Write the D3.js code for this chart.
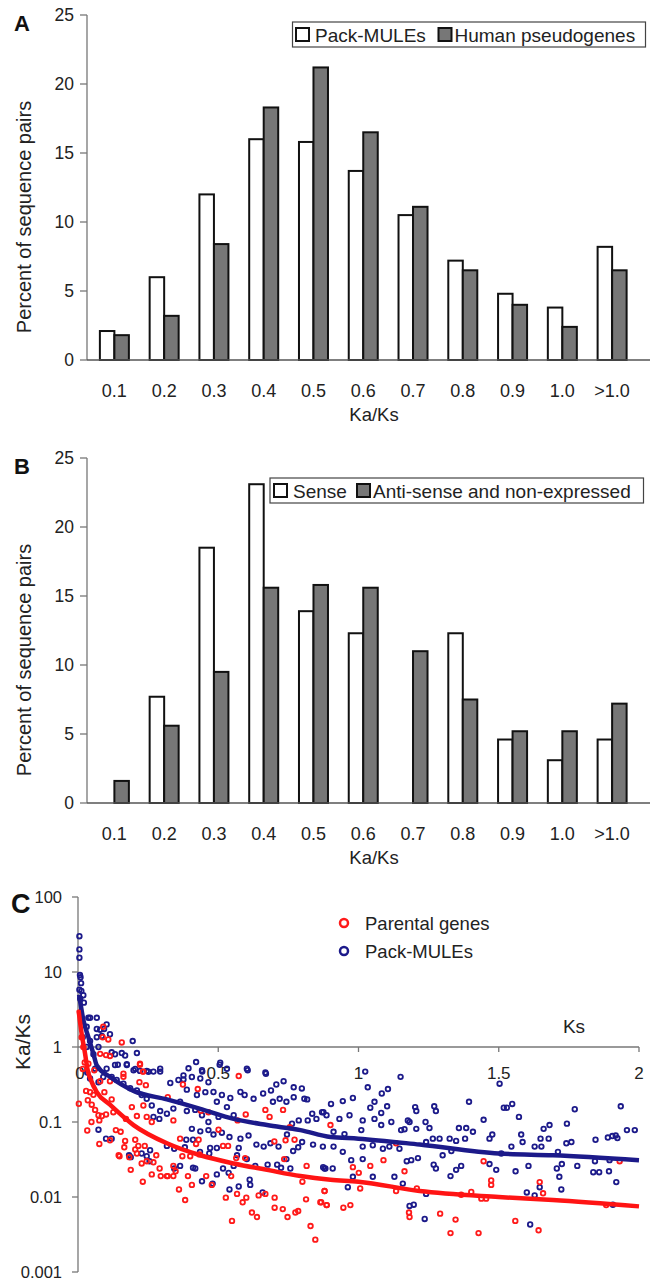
<!DOCTYPE html>
<html>
<head>
<meta charset="utf-8">
<script src="https://cdn.jsdelivr.net/npm/d3@7"></script>
<style>
  body { margin: 0; background: #fff; }
  svg { display: block; font-family: "Liberation Sans", Arial, sans-serif; }
</style>
</head>
<body>
<div id="chart"></div>
<script>
// categories for panels A and B
var cats = ["0.1", "0.2", "0.3", "0.4", "0.5", "0.6", "0.7", "0.8", "0.9", "1.0", ">1.0"];
var yTicksAB = [0, 5, 10, 15, 20, 25];

// panel A
var packMules = [2.1, 6.0, 12.0, 16.0, 15.8, 13.7, 10.5, 7.2, 4.8, 3.8, 8.2];
var humanPseudo = [1.8, 3.2, 8.4, 18.3, 21.2, 16.5, 11.1, 6.5, 4.0, 2.4, 6.5];

// panel B
var sense = [0, 7.7, 18.5, 23.1, 13.9, 12.3, 0, 12.3, 4.6, 3.1, 4.6];
var antiSense = [1.6, 5.6, 9.5, 15.6, 15.8, 15.6, 11.0, 7.5, 5.2, 5.2, 7.2];

// panel C : [Ks, Ka/Ks]
var parental = [
  [0.007, 2.9], [0.012, 2.3], [0.013, 1.35], [0.019, 1.0], [0.037, 0.6], [0.088, 1.35], [0.09, 1.86], [0.108, 1.26],
  [0.1, 0.78], [0.156, 1.15], [0.221, 0.58], [0.573, 0.41], [0.079, 0.81], [0.114, 0.76], [0.058, 0.49], [0.162, 0.4],
  [0.233, 0.47], [0.003, 0.175], [0.033, 0.077], [0.076, 0.051], [0.114, 0.057], [0.148, 0.035], [0.165, 0.046],
  [0.188, 0.023], [0.204, 0.043], [0.231, 0.016], [0.269, 0.029], [0.295, 0.019], [0.317, 0.019], [0.34, 0.019],
  [0.36, 0.0126], [0.382, 0.0091], [0.406, 0.0145], [0.392, 0.019], [0.457, 0.019], [0.477, 0.0145], [0.527, 0.0098],
  [0.549, 0.0048], [0.546, 0.019], [0.567, 0.011], [0.587, 0.0085], [0.6, 0.0098], [0.62, 0.0062], [0.638, 0.0054],
  [0.644, 0.0105], [0.668, 0.011], [0.701, 0.0098], [0.701, 0.0072], [0.73, 0.0069], [0.747, 0.0054], [0.775, 0.0062],
  [0.785, 0.0065], [0.813, 0.0093], [0.829, 0.0041], [0.846, 0.0027], [0.864, 0.0085], [0.886, 0.0078], [0.879, 0.012],
  [0.8, 0.016], [0.815, 0.026], [0.735, 0.032], [0.772, 0.058], [0.74, 0.057], [0.70, 0.055], [0.668, 0.145],
  [0.683, 0.117], [0.731, 0.145], [0.755, 0.085], [0.569, 0.105], [0.598, 0.126], [0.501, 0.079], [0.517, 0.048],
  [0.535, 0.048], [0.564, 0.033], [0.596, 0.033], [0.433, 0.037], [0.43, 0.058], [0.438, 0.141], [0.465, 0.135],
  [0.427, 0.275], [0.374, 0.316], [0.32, 0.214], [0.34, 0.105], [0.364, 0.06], [0.372, 0.035], [0.40, 0.035],
  [0.421, 0.051], [0.34, 0.026], [0.348, 0.022], [0.32, 0.019], [0.291, 0.024], [0.279, 0.036], [0.263, 0.02],
  [0.245, 0.03], [0.227, 0.028], [0.21, 0.038], [0.215, 0.048], [0.238, 0.048], [0.204, 0.058], [0.183, 0.034],
  [0.168, 0.056], [0.145, 0.036], [0.135, 0.078], [0.152, 0.074], [0.171, 0.11], [0.192, 0.158], [0.21, 0.12],
  [0.233, 0.166], [0.245, 0.117], [0.263, 0.1], [0.242, 0.31], [0.219, 0.34], [0.231, 0.47], [0.221, 0.6],
  [0.162, 0.44], [0.12, 0.2], [0.094, 0.25], [0.114, 0.35], [0.079, 0.35], [0.043, 0.25], [0.055, 0.23],
  [0.049, 0.17], [0.061, 0.145], [0.073, 0.123], [0.085, 0.12], [0.1, 0.126], [0.126, 0.135], [0.048, 0.1],
  [0.076, 0.105], [0.035, 0.195], [0.029, 0.26], [0.017, 0.51], [0.024, 0.62],
  [0.9, 0.091], [0.879, 0.012], [0.867, 0.0085], [0.887, 0.0078], [0.946, 0.0072], [0.971, 0.0078], [0.98, 0.025],
  [1.001, 0.021], [1.006, 0.013], [1.042, 0.026], [1.089, 0.031], [1.134, 0.012], [1.164, 0.022], [1.18, 0.0062],
  [1.182, 0.0054], [1.208, 0.013], [1.291, 0.006], [1.328, 0.0033], [1.346, 0.005], [1.366, 0.0107], [1.402, 0.0117],
  [1.428, 0.0033], [1.438, 0.0095], [1.455, 0.0095], [1.446, 0.03], [1.473, 0.0166], [1.473, 0.0145], [1.559, 0.0048],
  [1.646, 0.0158], [1.658, 0.0112], [1.642, 0.0036], [1.883, 0.0078], [1.931, 0.03], [1.134, 0.052]
];
var packMulesC = [
  [0.005, 30], [0.005, 20], [0.005, 15.5], [0.007, 9.1], [0.009, 8.5], [0.011, 7.1], [0.005, 5.8], [0.012, 5.6],
  [0.019, 4.9], [0.021, 3.9], [0.008, 4.4], [0.037, 2.45], [0.043, 2.45], [0.067, 2.45], [0.031, 1.86], [0.067, 1.74],
  [0.079, 1.7], [0.093, 1.74], [0.102, 2.0], [0.114, 1.48], [0.067, 1.35], [0.085, 1.4], [0.195, 1.2], [0.073, 1.0],
  [0.12, 0.85], [0.132, 0.8], [0.156, 0.83], [0.168, 0.77], [0.21, 0.83], [0.174, 0.59], [0.142, 0.58], [0.204, 0.51],
  [0.221, 0.48], [0.245, 0.48], [0.269, 0.47], [0.293, 0.47], [0.376, 0.37], [0.394, 0.52], [0.421, 0.63],
  [0.443, 0.47], [0.505, 0.58], [0.605, 0.49], [0.67, 0.44], [0.043, 1.2], [0.055, 0.8], [0.031, 1.0], [0.017, 1.35],
  [0.073, 0.079], [0.1, 0.06], [0.12, 0.06], [0.182, 0.036], [0.227, 0.038], [0.245, 0.035], [0.255, 0.03],
  [0.317, 0.048], [0.343, 0.024], [0.364, 0.026], [0.41, 0.0245], [0.418, 0.024], [0.442, 0.0162], [0.48, 0.0151],
  [0.495, 0.02], [0.517, 0.024], [0.54, 0.0126], [0.573, 0.0138], [0.614, 0.0145], [0.658, 0.0115], [0.612, 0.017],
  [0.632, 0.026], [0.676, 0.027], [0.71, 0.027], [0.724, 0.0245], [0.757, 0.024], [0.743, 0.032], [0.767, 0.041],
  [0.785, 0.046], [0.799, 0.054], [0.838, 0.05], [0.874, 0.025], [0.882, 0.024], [0.555, 0.026], [0.537, 0.021],
  [0.567, 0.036], [0.602, 0.032], [0.573, 0.045], [0.471, 0.045], [0.495, 0.045], [0.468, 0.038], [0.386, 0.058],
  [0.41, 0.058], [0.406, 0.081], [0.436, 0.075], [0.465, 0.078], [0.483, 0.068], [0.513, 0.072], [0.54, 0.063],
  [0.579, 0.06], [0.608, 0.066], [0.636, 0.05], [0.662, 0.047], [0.686, 0.052], [0.715, 0.047], [0.745, 0.068],
  [0.763, 0.095], [0.787, 0.105], [0.819, 0.105], [0.85, 0.11], [0.886, 0.123], [0.87, 0.135], [0.835, 0.129],
  [0.807, 0.204], [0.769, 0.214], [0.743, 0.186], [0.719, 0.204], [0.695, 0.186], [0.688, 0.263], [0.66, 0.24],
  [0.626, 0.204], [0.594, 0.229], [0.579, 0.251], [0.543, 0.209], [0.513, 0.229], [0.495, 0.186], [0.531, 0.158],
  [0.555, 0.123], [0.501, 0.117], [0.465, 0.1], [0.442, 0.123], [0.418, 0.145], [0.388, 0.14], [0.364, 0.186],
  [0.34, 0.151], [0.317, 0.129], [0.29, 0.11], [0.269, 0.117], [0.293, 0.14], [0.263, 0.166], [0.245, 0.204],
  [0.227, 0.229], [0.21, 0.263], [0.186, 0.282], [0.162, 0.324], [0.138, 0.363], [0.12, 0.398], [0.09, 0.398],
  [0.073, 0.339], [0.043, 0.38], [0.033, 0.457], [0.061, 0.513], [0.102, 0.513], [0.132, 0.575], [0.174, 0.575],
  [0.198, 0.49], [0.251, 0.468], [0.293, 0.513], [0.329, 0.331], [0.358, 0.363], [0.376, 0.417], [0.406, 0.398],
  [0.436, 0.38], [0.465, 0.339], [0.388, 0.27], [0.424, 0.229], [0.454, 0.25], [0.442, 0.49], [0.507, 0.617],
  [0.531, 0.513], [0.602, 0.513], [0.668, 0.457], [0.707, 0.316], [0.733, 0.35], [0.769, 0.29], [0.798, 0.28],
  [0.817, 0.2], [0.483, 0.251], [0.188, 0.034], [0.257, 0.042], [0.343, 0.044], [0.381, 0.046], [0.435, 0.04],
  [1.024, 0.47], [1.15, 0.40], [1.033, 0.29], [1.083, 0.24], [1.105, 0.275], [1.057, 0.186], [1.042, 0.155],
  [1.102, 0.162], [1.081, 0.132], [1.081, 0.091], [1.117, 0.1], [1.057, 0.11], [1.015, 0.105], [1.01, 0.078],
  [0.98, 0.209], [0.944, 0.19], [0.902, 0.174], [0.875, 0.135], [0.932, 0.11], [0.968, 0.123], [0.911, 0.074],
  [0.95, 0.069], [0.873, 0.047], [0.911, 0.047], [0.944, 0.04], [0.974, 0.031], [1.015, 0.032], [0.908, 0.024],
  [0.879, 0.024], [0.98, 0.0186], [1.051, 0.0186], [0.962, 0.0135], [1.051, 0.049], [1.015, 0.047], [1.087, 0.044],
  [1.11, 0.047], [1.146, 0.044], [1.128, 0.0186], [1.158, 0.0151], [1.172, 0.03], [1.188, 0.031], [1.212, 0.033],
  [1.152, 0.078], [1.164, 0.08], [1.182, 0.1], [1.206, 0.081], [1.202, 0.158], [1.206, 0.14], [1.176, 0.105],
  [1.239, 0.1], [1.253, 0.083], [1.27, 0.162], [1.276, 0.14], [1.241, 0.054], [1.265, 0.06], [1.289, 0.06],
  [1.268, 0.027], [1.276, 0.024], [1.241, 0.011], [1.182, 0.0076], [1.197, 0.0079], [1.236, 0.0051], [1.3, 0.036],
  [1.328, 0.019], [1.325, 0.06], [1.348, 0.056], [1.331, 0.041], [1.358, 0.083], [1.384, 0.083], [1.408, 0.074],
  [1.38, 0.06], [1.394, 0.186], [1.348, 0.023], [1.366, 0.026], [1.446, 0.107], [1.467, 0.06], [1.477, 0.068],
  [1.503, 0.324], [1.518, 0.155], [1.529, 0.155], [1.548, 0.174], [1.572, 0.117], [1.58, 0.068], [1.585, 0.054],
  [1.545, 0.047], [1.509, 0.038], [1.491, 0.023], [1.467, 0.0275], [1.56, 0.022], [1.606, 0.026], [1.6, 0.0115],
  [1.628, 0.0105], [1.646, 0.0135], [1.612, 0.0043], [1.628, 0.047], [1.652, 0.047], [1.649, 0.06], [1.66, 0.081],
  [1.681, 0.091], [1.678, 0.06], [1.711, 0.04], [1.707, 0.024], [1.716, 0.0186], [1.725, 0.0275], [1.723, 0.0126],
  [1.743, 0.095], [1.741, 0.052], [1.759, 0.054], [1.771, 0.148], [1.78, 0.026], [1.845, 0.058], [1.843, 0.03],
  [1.837, 0.0214], [1.858, 0.0214], [1.889, 0.062], [1.895, 0.031], [1.893, 0.022], [1.905, 0.065], [1.917, 0.066],
  [1.923, 0.061], [1.919, 0.0158], [1.935, 0.162], [1.957, 0.078], [1.985, 0.078], [1.907, 0.0079]
];
// trend lines
var parentalFit = [[0.002, 3.1], [0.013, 1.5], [0.025, 0.82], [0.035, 0.48], [0.045, 0.37], [0.067, 0.25], [0.114, 0.17],
  [0.198, 0.091], [0.317, 0.052], [0.436, 0.036], [0.555, 0.028], [0.674, 0.023], [0.793, 0.019], [0.9, 0.017],
  [1.0, 0.016], [1.218, 0.012], [1.5, 0.010], [1.693, 0.0091], [2.0, 0.0075]];
var packFit = [[0.004, 5.0], [0.019, 2.3], [0.037, 1.35], [0.055, 0.81], [0.067, 0.57], [0.114, 0.40], [0.198, 0.26],
  [0.317, 0.20], [0.436, 0.15], [0.555, 0.11], [0.674, 0.091], [0.793, 0.078], [0.9, 0.063], [1.0, 0.060],
  [1.218, 0.050], [1.5, 0.038], [1.693, 0.036], [2.0, 0.031]];
var yTicksC = [0.001, 0.01, 0.1, 1, 10, 100];
var xTicksC = [0, 0.5, 1, 1.5, 2];

var svg = d3.select("#chart").append("svg")
    .attr("width", 651)
    .attr("height", 1283);

var x = d3.scaleBand().domain(cats).range([89.5, 637]);

function barPanel(top, letter, s1, s2, name1, name2, leg) {
    var y = d3.scaleLinear().domain([0, 25]).range([top + 345, top]);
    var g = svg.append("g");

    // y axis
    g.append("line").attr("x1", 87).attr("x2", 87).attr("y1", y(25)).attr("y2", y(0))
        .attr("stroke", "#777").attr("stroke-width", 1.3);
    yTicksAB.forEach(function (t) {
        g.append("line").attr("x1", 80).attr("x2", 87).attr("y1", y(t)).attr("y2", y(t))
            .attr("stroke", "#777").attr("stroke-width", 1.3);
        g.append("text").attr("x", 74).attr("y", y(t)).attr("dy", "0.36em")
            .attr("text-anchor", "end").attr("font-size", 17.5).attr("fill", "#222").text(t);
    });

    // bars
    var bw = 14.5;
    cats.forEach(function (c, i) {
        var cx = x(c) + x.bandwidth() / 2;
        if (s1[i] > 0)
            g.append("rect").attr("x", cx - bw).attr("y", y(s1[i])).attr("width", bw)
                .attr("height", y(0) - y(s1[i])).attr("fill", "#fff").attr("stroke", "#111").attr("stroke-width", 2);
        if (s2[i] > 0)
            g.append("rect").attr("x", cx).attr("y", y(s2[i])).attr("width", bw)
                .attr("height", y(0) - y(s2[i])).attr("fill", "#777").attr("stroke", "#111").attr("stroke-width", 2);
        g.append("text").attr("x", cx).attr("y", y(0) + 37).attr("text-anchor", "middle")
            .attr("font-size", 18).attr("fill", "#222").text(c);
    });

    // x axis line
    g.append("line").attr("x1", 87).attr("x2", 650).attr("y1", y(0)).attr("y2", y(0))
        .attr("stroke", "#555").attr("stroke-width", 1.3);

    g.append("text").attr("x", 374).attr("y", y(0) + 61).attr("text-anchor", "middle")
        .attr("font-size", 18.5).attr("fill", "#222").text("Ka/Ks");
    g.append("text").attr("transform", "translate(24," + (top + 202) + ") rotate(-90)")
        .attr("dy", "0.36em").attr("text-anchor", "middle").attr("font-size", 20).attr("fill", "#222")
        .text("Percent of sequence pairs");
    g.append("text").attr("x", 14).attr("y", top + 16).attr("font-size", 22).attr("font-weight", "bold")
        .attr("fill", "#111").text(letter);

    // legend
    var lg = g.append("g");
    lg.append("rect").attr("x", leg.x0).attr("y", top + leg.dy).attr("width", leg.x1 - leg.x0).attr("height", 25)
        .attr("fill", "#fff").attr("stroke", "#444").attr("stroke-width", 1.2);
    lg.append("rect").attr("x", leg.m1).attr("y", top + leg.dy + 6).attr("width", 13).attr("height", 13)
        .attr("fill", "#fff").attr("stroke", "#111").attr("stroke-width", 2);
    lg.append("text").attr("x", leg.m1 + 19).attr("y", top + leg.dy + 20).attr("font-size", 19)
        .attr("fill", "#222").text(name1);
    lg.append("rect").attr("x", leg.m2).attr("y", top + leg.dy + 6).attr("width", 13).attr("height", 13)
        .attr("fill", "#777").attr("stroke", "#111").attr("stroke-width", 2);
    lg.append("text").attr("x", leg.m2 + 16).attr("y", top + leg.dy + 20).attr("font-size", 19)
        .attr("fill", "#222").text(name2);
}

barPanel(15, "A", packMules, humanPseudo, "Pack-MULEs", "Human pseudogenes",
    { x0: 292.5, x1: 645.5, dy: 7, m1: 296, m2: 438.5 });
barPanel(458, "B", sense, antiSense, "Sense", "Anti-sense and non-expressed",
    { x0: 270, x1: 643.5, dy: 20, m1: 274, m2: 357 });

// panel C
var xc = d3.scaleLinear().domain([0, 2]).range([78, 639]);
var yc = d3.scaleLog().domain([0.001, 100]).range([1272, 897]);
var gc = svg.append("g");

gc.append("line").attr("x1", xc(0)).attr("x2", xc(0)).attr("y1", yc(100)).attr("y2", yc(0.001))
    .attr("stroke", "#777").attr("stroke-width", 1.3);
yTicksC.forEach(function (t) {
    gc.append("line").attr("x1", 72).attr("x2", 78).attr("y1", yc(t)).attr("y2", yc(t))
        .attr("stroke", "#777").attr("stroke-width", 1.3);
    gc.append("text").attr("x", 62).attr("y", yc(t)).attr("dy", "0.36em").attr("text-anchor", "end")
        .attr("font-size", 16.5).attr("fill", "#222").text(t);
});

gc.append("line").attr("x1", xc(0)).attr("x2", xc(2)).attr("y1", yc(1)).attr("y2", yc(1))
    .attr("stroke", "#777").attr("stroke-width", 1.3);
xTicksC.forEach(function (t) {
    if (t > 0)
        gc.append("line").attr("x1", xc(t)).attr("x2", xc(t)).attr("y1", yc(1)).attr("y2", yc(1) + 5)
            .attr("stroke", "#777").attr("stroke-width", 1.3);
    gc.append("text").attr("x", xc(t) + (t === 0 ? 2 : 0)).attr("y", yc(1) + 32).attr("text-anchor", "middle")
        .attr("font-size", 17).attr("fill", "#222").text(t);
});

gc.selectAll("circle.pm").data(packMulesC).enter().append("circle")
    .attr("cx", function (d) { return xc(d[0]); })
    .attr("cy", function (d) { return yc(d[1]); })
    .attr("r", 2.3).attr("fill", "none").attr("stroke", "#1c1a8a").attr("stroke-width", 1.8);
gc.selectAll("circle.pg").data(parental).enter().append("circle")
    .attr("cx", function (d) { return xc(d[0]); })
    .attr("cy", function (d) { return yc(d[1]); })
    .attr("r", 2.3).attr("fill", "none").attr("stroke", "#ff1a1a").attr("stroke-width", 1.8);

var line = d3.line().x(function (d) { return xc(d[0]); }).y(function (d) { return yc(d[1]); })
    .curve(d3.curveMonotoneX);
gc.append("path").attr("d", line(packFit)).attr("fill", "none").attr("stroke", "#1c1a8a").attr("stroke-width", 4.5);
gc.append("path").attr("d", line(parentalFit)).attr("fill", "none").attr("stroke", "#ff1414").attr("stroke-width", 4.5);

gc.append("text").attr("x", 574).attr("y", 1026).attr("dy", "0.36em").attr("text-anchor", "middle")
    .attr("font-size", 19).attr("fill", "#222").text("Ks");
gc.append("text").attr("transform", "translate(22,1042) rotate(-90)").attr("dy", "0.36em")
    .attr("text-anchor", "middle").attr("font-size", 21).attr("fill", "#222").text("Ka/Ks");
gc.append("text").attr("x", 11).attr("y", 913).attr("font-size", 27).attr("font-weight", "bold")
    .attr("fill", "#111").text("C");

// legend C
var legC = [["Parental genes", "#ff1a1a", 923], ["Pack-MULEs", "#1c1a8a", 951]];
legC.forEach(function (l) {
    gc.append("circle").attr("cx", 344).attr("cy", l[2]).attr("r", 4).attr("fill", "none")
        .attr("stroke", l[1]).attr("stroke-width", 2.5);
    gc.append("text").attr("x", 365).attr("y", l[2]).attr("dy", "0.36em").attr("font-size", 18.5)
        .attr("fill", "#222").text(l[0]);
});
</script>
</body>
</html>
